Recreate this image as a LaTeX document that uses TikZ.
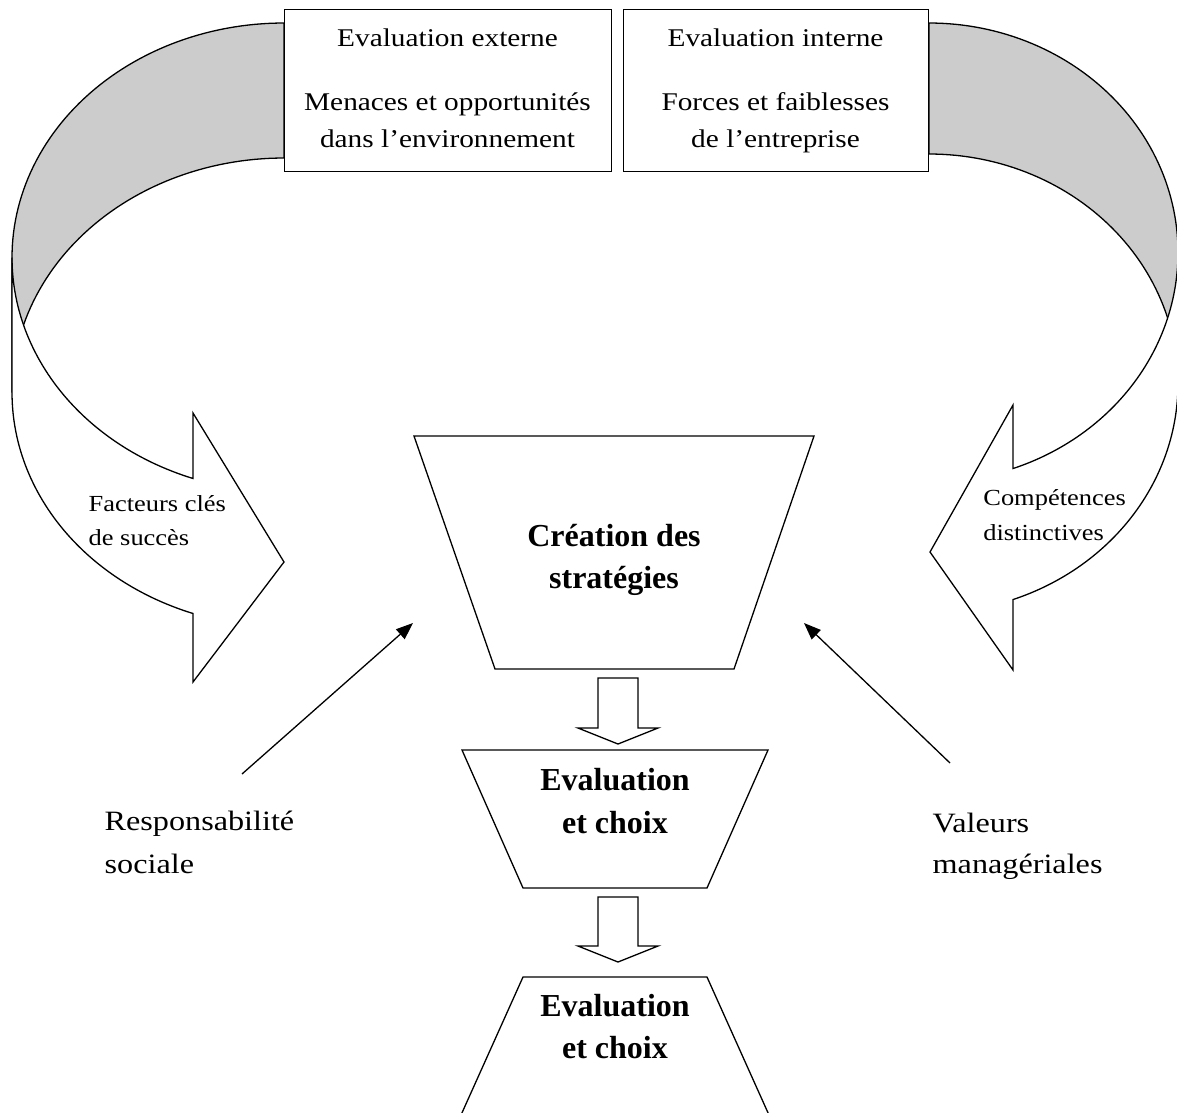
\documentclass[tikz,border=0pt]{standalone}
\usepackage{fontspec}
\setmainfont{Liberation Serif}
\newfontfamily\widefont{Liberation Serif}[FakeStretch=1.15]
\usetikzlibrary{arrows.meta}
\definecolor{bandgray}{HTML}{CCCCCC}
\begin{document}
\begin{tikzpicture}[x=1pt,y=-1pt,line width=1.3pt,line join=miter,
  shp/.style={draw=black,fill=white},
  band/.style={draw=black,fill=bandgray},
  boxtxt/.style={inner sep=0pt,anchor=base,font=\widefont\fontsize{25.5}{25.5}\selectfont},
  arrtxt/.style={inner sep=0pt,anchor=base west,font=\widefont\fontsize{23}{23}\selectfont},
  sidetxt/.style={inner sep=0pt,anchor=base west,font=\widefont\fontsize{28}{28}\selectfont},
  boldtxt/.style={inner sep=0pt,anchor=base,font=\bfseries\fontsize{32}{32}\selectfont},
  infl/.style={-{Triangle[length=17pt,width=13pt]},line width=1.3pt}]
\useasboundingbox (0,0) rectangle (1177,1112);
\clip (0,0) rectangle (1177,1112);

% ---- left curved arrow ----
\path[band] plot[domain=270:180,samples=60,variable=\t] ({284+272*cos(\t)},{257.5+234.5*sin(\t)})
  -- plot[domain=180:270,samples=60,variable=\t] ({284+272*cos(\t)},{392.5+234.5*sin(\t)}) -- cycle;
\path[shp] plot[domain=180:109.55,samples=60,variable=\t] ({284+272*cos(\t)},{257.5+234.5*sin(\t)})
  -- (193,413) -- (284,562) -- (193,682)
  -- plot[domain=109.55:180,samples=60,variable=\t] ({284+272*cos(\t)},{392.5+234.5*sin(\t)}) -- cycle;

% ---- right curved arrow ----
\path[band] plot[domain=-90:0,samples=60,variable=\t] ({929+249*cos(\t)},{252.5+229.5*sin(\t)})
  -- plot[domain=0:-90,samples=60,variable=\t] ({929+249*cos(\t)},{383.5+229.5*sin(\t)}) -- cycle;
\path[shp] plot[domain=0:70.29,samples=60,variable=\t] ({929+249*cos(\t)},{252.5+229.5*sin(\t)})
  -- (1013,405) -- (930,552) -- (1013,670)
  -- plot[domain=70.29:0,samples=60,variable=\t] ({929+249*cos(\t)},{383.5+229.5*sin(\t)}) -- cycle;

\node[arrtxt] (fcs1) at (88,511.7) {Facteurs clés};
\node[arrtxt] (fcs2) at (88,545) {de succès};
\node[arrtxt] (cd1) at (982.7,505) {Compétences};
\node[arrtxt] (cd2) at (982.7,540) {distinctives};

% ---- top boxes ----
\node[shp,inner sep=0pt,minimum width=327pt,minimum height=162pt,anchor=north west] (ext) at (284,9) {};
\node[shp,inner sep=0pt,minimum width=305pt,minimum height=162pt,anchor=north west] (int) at (623,9) {};
\node[boxtxt] (ext1) at (447.5,46.7) {Evaluation externe};
\node[boxtxt] (ext2) at (447.5,110) {Menaces et opportunités};
\node[boxtxt] (ext3) at (447.5,147) {dans l’environnement};
\node[boxtxt] (int1) at (775.5,46.7) {Evaluation interne};
\node[boxtxt] (int2) at (775.5,110) {Forces et faiblesses};
\node[boxtxt] (int3) at (775.5,147) {de l’entreprise};

% ---- central funnel ----
\path[shp] (414,436) -- (814,436) -- (734,669) -- (495,669) -- cycle;
\node[boldtxt] (cr1) at (614,546) {Création des};
\node[boldtxt] (cr2) at (614,588) {stratégies};

\path[shp] (598,678) -- (638,678) -- (638,728) -- (658,728) -- (618,744) -- (578,728) -- (598,728) -- cycle;

\path[shp] (462,750) -- (768,750) -- (707,888) -- (523,888) -- cycle;
\node[boldtxt] (ev1) at (615,790) {Evaluation};
\node[boldtxt] (ev2) at (615,833) {et choix};

\path[shp] (598,897) -- (638,897) -- (638,946) -- (658,946) -- (618,962) -- (578,946) -- (598,946) -- cycle;

\path[shp] (523,977) -- (707,977) -- (769,1115) -- (461,1115) -- cycle;
\node[boldtxt] (ec1) at (615,1016) {Evaluation};
\node[boldtxt] (ec2) at (615,1058) {et choix};

% ---- influences ----
\coordinate (rsA) at (242,774);
\coordinate (rsB) at (413,623);
\coordinate (vmA) at (950,763);
\coordinate (vmB) at (804,623);
\draw[infl] (rsA) -- (rsB);
\draw[infl] (vmA) -- (vmB);
\node[sidetxt] (rs1) at (104,830) {Responsabilité};
\node[sidetxt] (rs2) at (104,873) {sociale};
\node[sidetxt] (vm1) at (932,832) {Valeurs};
\node[sidetxt] (vm2) at (932,873) {managériales};
\end{tikzpicture}
\end{document}
